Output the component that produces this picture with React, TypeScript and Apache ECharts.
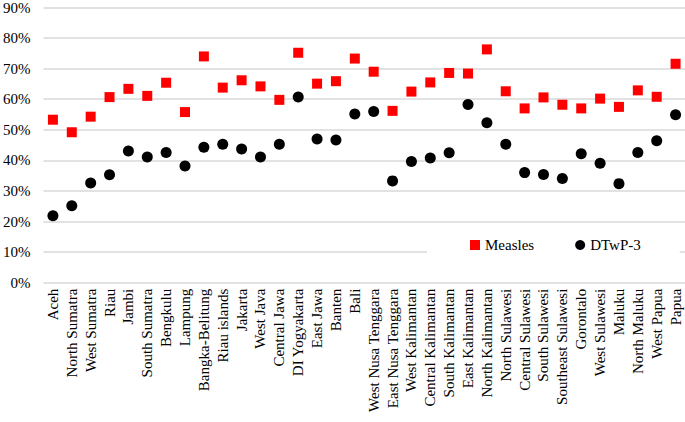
import React, { useEffect, useRef } from "react";
import * as echarts from "echarts";

const categories = [
  "Aceh", "North Sumatra", "West Sumatra", "Riau", "Jambi", "South Sumatra", "Bengkulu",
  "Lampung", "Bangka-Belitung", "Riau islands", "Jakarta", "West Java", "Central Jawa",
  "DI Yogyakarta", "East Jawa", "Banten", "Bali", "West Nusa Tenggara", "East Nusa Tenggara",
  "West Kalimantan", "Central Kalimantan", "South Kalimantan", "East Kalimantan",
  "North Kalimantan", "North Sulawesi", "Central Sulawesi", "South Sulawesi",
  "Southeast Sulawesi", "Gorontalo", "West Sulawesi", "Maluku", "North Maluku",
  "West Papua", "Papua",
];

const measles = [
  53.3, 49.2, 54.3, 60.7, 63.4, 61.1, 65.4, 55.8, 74.0, 63.8, 66.2, 64.2, 59.8, 75.2, 65.1,
  65.9, 73.3, 69.0, 56.2, 62.5, 65.5, 68.6, 68.4, 76.3, 62.6, 57.0, 60.6, 58.2, 57.0, 60.2,
  57.5, 62.9, 60.8, 71.6,
];

const dtwp3 = [
  21.9, 25.2, 32.6, 35.3, 43.1, 41.1, 42.6, 38.2, 44.3, 45.3, 43.7, 41.1, 45.3, 60.7, 47.0,
  46.7, 55.2, 56.0, 33.3, 39.6, 40.8, 42.5, 58.3, 52.3, 45.3, 36.0, 35.4, 34.1, 42.2, 39.1,
  32.4, 42.6, 46.4, 54.9,
];

const FONT = "Liberation Serif";

export default function App() {
  const ref = useRef<HTMLDivElement>(null);
  useEffect(() => {
    if (!ref.current) return;
    const chart = echarts.init(ref.current, null, { renderer: "svg" });
    chart.setOption({
      animation: false,
      backgroundColor: "#ffffff",
      textStyle: { fontFamily: FONT, color: "#000" },
      grid: { left: 41, right: 0, top: 5.7, bottom: 139.3, containLabel: false },
      legend: {
        left: 427,
        top: 227,
        backgroundColor: "#ffffff",
        padding: [10, 39, 10, 43],
        itemGap: 41,
        itemWidth: 10,
        itemHeight: 10,
        textStyle: { fontFamily: FONT, fontSize: 15, color: "#000", lineHeight: 16 },
        data: [
          { name: "Measles", icon: "rect", itemStyle: { color: "#ff0000", opacity: 1 } },
          { name: "DTwP-3", icon: "circle", itemStyle: { color: "#000000", opacity: 1 } },
        ],
      },
      xAxis: {
        type: "category",
        data: categories,
        axisLine: { show: false },
        axisTick: { show: false },
        axisLabel: {
          interval: 0,
          rotate: 90,
          margin: 6,
          fontFamily: FONT,
          fontSize: 15,
          color: "#000",
        },
        splitLine: { show: false },
      },
      yAxis: {
        type: "value",
        min: 0,
        max: 90,
        interval: 10,
        axisLine: { show: false },
        axisTick: { show: false },
        axisLabel: {
          formatter: "{value}%",
          margin: 13,
          fontFamily: FONT,
          fontSize: 15,
          color: "#000",
        },
        splitLine: { lineStyle: { color: "#d9d9d9", width: 1.5 } },
      },
      series: [
        {
          name: "Measles",
          type: "scatter",
          data: measles,
          symbol: "rect",
          symbolSize: 10,
          itemStyle: { color: "#ff0000", opacity: 1 },
        },
        {
          name: "DTwP-3",
          type: "scatter",
          data: dtwp3,
          symbol: "circle",
          symbolSize: 11,
          itemStyle: { color: "#000000", opacity: 1 },
        },
      ],
    });
    return () => chart.dispose();
  }, []);
  return (
    <div
      ref={ref}
      style={{ position: "absolute", left: 0, top: 0, width: 685, height: 422 }}
    />
  );
}
